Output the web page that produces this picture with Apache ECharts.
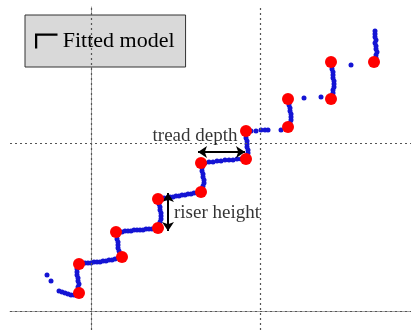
<!DOCTYPE html>
<html>
<head>
<meta charset="utf-8">
<script src="https://cdn.jsdelivr.net/npm/echarts@6/dist/echarts.min.js"></script>
<style>
  html, body { margin: 0; padding: 0; background: #fff; }
  #chart { width: 411px; height: 330px; }
</style>
</head>
<body>
<div id="chart"></div>
<script>
// units: mm-ish, origin at the lower/left dotted grid line
const xRange = [-81, 320];
const yRange = [-19, 304];
const gridX = [0, 169];
const gridY = [0, 168];

// stair corners found by the fit
const modelPoints = [
    [-12, 18], [-12, 47], [31, 54], [25, 79], [67, 83], [67, 112], [110, 119],
    [110, 148], [155, 152], [155, 180], [197, 184], [197, 212], [240, 212],
    [240, 249], [283, 249]
];

// measured profile
const scanPoints = [
    [-44, 36], [-40, 30],
    [-32, 20], [-29, 19], [-26, 18], [-23, 17], [-20, 16], [-17, 16], [-14, 17],
    [-12, 21], [-13, 24], [-12, 27], [-13, 30], [-13, 33], [-14, 36], [-14, 39], [-14, 42], [-13, 45],
    [-9, 47], [-6, 48], [-3, 48], [0, 48], [3, 49], [6, 49], [9, 49], [12, 50], [15, 50],
    [18, 51], [21, 51], [24, 52], [27, 53],
    [29, 57], [28, 60], [27, 63], [27, 66], [27, 69], [26, 72], [26, 75],
    [28, 79], [31, 79], [34, 80], [37, 80], [40, 80], [43, 81], [46, 81], [49, 81], [52, 81],
    [55, 82], [58, 82], [61, 82], [64, 83],
    [68, 86], [69, 89], [70, 92], [70, 95], [70, 98], [69, 101], [69, 104], [68, 107], [67, 110],
    [70, 112], [73, 113], [76, 113], [79, 114], [82, 114], [85, 115], [88, 115], [91, 116],
    [94, 116], [97, 117], [100, 117], [103, 118], [106, 118],
    [111, 122], [112, 125], [113, 128], [113, 131], [112, 134], [112, 137], [111, 140], [111, 143], [110, 146],
    [114, 148], [118, 149], [122, 149], [126, 150], [130, 150], [134, 151], [138, 151], [142, 151], [146, 152], [150, 152],
    [156, 155], [157, 158], [157, 161], [156, 164], [156, 167], [156, 170], [155, 173], [155, 176],
    [160, 180], [165, 180], [170, 181], [174, 181], [177, 181], [190, 181],
    [199, 188], [200, 191], [200, 194], [200, 197], [199, 200], [199, 203], [198, 206], [198, 209],
    [213, 213], [230, 214],
    [241, 215], [242, 218], [242, 221], [243, 224], [243, 227], [243, 230], [242, 233], [242, 236],
    [242, 239], [241, 242], [241, 245],
    [260, 246],
    [285, 253], [285, 256], [286, 259], [285, 262], [285, 265], [284, 268], [285, 271], [284, 274],
    [284, 277], [284, 280]
];

// annotations
const treadArrow = [[107, 159], [154, 159]];
const riserArrow = [[77, 118], [77, 80]];
const notes = [
    { name: 'tread depth', value: [104, 175] },
    { name: 'riser height', value: [126, 98] }
];

const serif = 'Times New Roman, Liberation Serif, DejaVu Serif, serif';

const chart = echarts.init(document.getElementById('chart'));

const gridLineStyle = { color: '#555', width: 1.2, type: [2, 3] };

chart.setOption({
    animation: false,
    grid: { left: 10, top: 7, right: 0, bottom: 0 },
    xAxis: {
        type: 'value',
        position: 'top',
        min: xRange[0],
        max: xRange[1],
        axisLine: { show: true, lineStyle: { color: '#a0a0a0', width: 1 } },
        axisTick: { show: false },
        axisLabel: { show: false },
        splitLine: { show: false }
    },
    yAxis: {
        type: 'value',
        min: yRange[0],
        max: yRange[1],
        axisLine: { show: true, lineStyle: { color: '#a0a0a0', width: 1 } },
        axisTick: { show: false },
        axisLabel: { show: false },
        splitLine: { show: false }
    },
    legend: {
        left: 25,
        top: 15,
        orient: 'vertical',
        backgroundColor: '#d9d9d9',
        borderColor: '#333',
        borderWidth: 1,
        borderRadius: 0,
        padding: [15, 11, 15, 10],
        itemWidth: 23,
        itemHeight: 15,
        selectedMode: false,
        textStyle: { fontFamily: serif, fontSize: 22, color: '#000' },
        data: [{
            name: 'Fitted model',
            icon: 'path://M0,0 H24 V2.4 H2.4 V16 H0 Z',
            itemStyle: { color: '#000' }
        }]
    },
    series: [
        {
            name: 'grid',
            type: 'scatter',
            data: [],
            silent: true,
            z: 1,
            markLine: {
                silent: true,
                symbol: 'none',
                label: { show: false },
                lineStyle: gridLineStyle,
                data: gridX.map(v => ({ xAxis: v })).concat(gridY.map(v => ({ yAxis: v })))
            }
        },
        {
            name: 'Scan',
            type: 'scatter',
            symbolSize: 5,
            itemStyle: { color: '#1414d4', opacity: 1 },
            data: scanPoints,
            z: 3
        },
        {
            name: 'Fitted model',
            type: 'scatter',
            symbolSize: 12,
            itemStyle: { color: '#ff0000', opacity: 1 },
            data: modelPoints,
            z: 5
        },
        {
            name: 'dims',
            type: 'scatter',
            data: notes,
            symbolSize: 0,
            silent: true,
            z: 6,
            label: {
                show: true,
                position: 'inside',
                formatter: p => p.name,
                fontFamily: serif,
                fontSize: 19,
                color: '#000'
            },
            markLine: {
                silent: true,
                symbol: ['arrow', 'arrow'],
                symbolSize: [9, 9],
                label: { show: false },
                lineStyle: { color: '#000', width: 2, type: 'solid' },
                data: [
                    [{ coord: treadArrow[0] }, { coord: treadArrow[1] }],
                    [{ coord: riserArrow[0] }, { coord: riserArrow[1] }]
                ]
            }
        }
    ]
});
</script>
</body>
</html>
